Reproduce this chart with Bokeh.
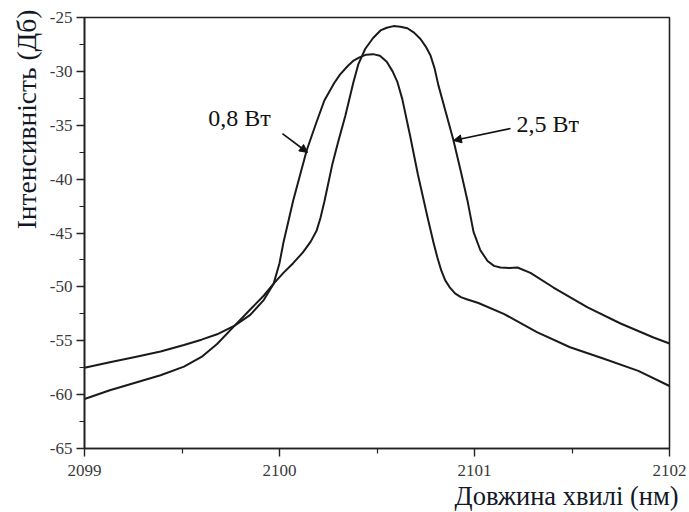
from bokeh.plotting import figure
from bokeh.models import Label, Arrow, NormalHead, Range1d, FixedTicker, Title, PrintfTickFormatter
from bokeh.embed import file_html
from bokeh.resources import INLINE

# Data
wl_08 = [2099.00, 2099.13, 2099.26, 2099.39, 2099.51, 2099.60, 2099.68, 2099.77, 2099.85, 2099.92,
         2099.97, 2100.00, 2100.02, 2100.07, 2100.14, 2100.19, 2100.23, 2100.28, 2100.31, 2100.35,
         2100.38, 2100.41, 2100.445, 2100.48, 2100.515, 2100.55, 2100.58, 2100.605, 2100.63, 2100.67,
         2100.71, 2100.76, 2100.79, 2100.81, 2100.83, 2100.85, 2100.875, 2100.90, 2100.93, 2100.96,
         2101.02, 2101.15, 2101.32, 2101.49, 2101.66, 2101.84, 2102.00]
int_08 = [-57.5, -57.0, -56.5, -56.0, -55.4, -54.9, -54.4, -53.6, -52.6, -51.2,
          -49.7, -47.8, -45.9, -42.0, -37.3, -34.7, -32.7, -31.1, -30.3, -29.5,
          -29.0, -28.7, -28.45, -28.4, -28.55, -29.1, -30.0, -31.0, -32.6, -36.0,
          -39.6, -43.6, -45.9, -47.3, -48.5, -49.4, -50.1, -50.6, -50.95, -51.15,
          -51.5, -52.5, -54.2, -55.6, -56.65, -57.8, -59.2]

wl_25 = [2099.00, 2099.13, 2099.26, 2099.39, 2099.51, 2099.60, 2099.68, 2099.77, 2099.85, 2099.92,
         2099.97, 2100.02, 2100.07, 2100.12, 2100.16, 2100.19, 2100.21, 2100.23, 2100.25, 2100.27,
         2100.30, 2100.338, 2100.379, 2100.405, 2100.44, 2100.48, 2100.518, 2100.55, 2100.585, 2100.62,
         2100.656, 2100.69, 2100.723, 2100.75, 2100.774, 2100.795, 2100.815, 2100.85, 2100.892, 2100.93,
         2100.964, 2100.995, 2101.03, 2101.067, 2101.10, 2101.133, 2101.18, 2101.22, 2101.287, 2101.405,
         2101.58, 2101.749, 2101.918, 2102.00]
int_25 = [-60.4, -59.6, -58.9, -58.2, -57.4, -56.5, -55.3, -53.6, -52.1, -50.8,
          -49.7, -48.7, -47.8, -46.8, -45.8, -44.8, -43.6, -42.1, -40.4, -38.7,
          -36.6, -34.1, -31.0, -29.3, -27.9, -26.9, -26.2, -25.95, -25.8, -25.85,
          -26.0, -26.4, -27.0, -27.7, -28.5, -29.7, -31.3, -33.6, -36.4, -39.3,
          -42.0, -44.9, -46.6, -47.6, -48.05, -48.2, -48.25, -48.2, -48.7, -50.06,
          -51.9, -53.4, -54.7, -55.25]

x_ticks = [2099, 2100, 2101, 2102]
y_ticks = [-65, -60, -55, -50, -45, -40, -35, -30, -25]
x_label = "Довжина хвилі (нм)"
y_label = "Інтенсивність (Дб)"
label_08 = "0,8 Вт"
label_25 = "2,5 Вт"

SERIF = "Liberation Serif"

p = figure(width=689, height=512, output_backend="svg", toolbar_location=None,
           x_range=Range1d(2099, 2102), y_range=Range1d(-65, -25),
           min_border_left=84, min_border_right=20, min_border_top=17, min_border_bottom=64)
p.background_fill_color = "white"
p.border_fill_color = "white"
p.grid.visible = False
p.outline_line_color = "#222222"
p.outline_line_width = 1.6

p.xaxis.ticker = FixedTicker(ticks=x_ticks, minor_ticks=[2099.5, 2100.5, 2101.5])
p.yaxis.ticker = FixedTicker(ticks=y_ticks, minor_ticks=[-62.5, -57.5, -52.5, -47.5, -42.5, -37.5, -32.5, -27.5])
p.xaxis.formatter = PrintfTickFormatter(format="%d")
p.yaxis.formatter = PrintfTickFormatter(format="%d")
for axes in (p.xaxis, p.yaxis):
    axes.axis_line_color = "#222222"
    axes.axis_line_width = 1.6
    axes.major_tick_line_color = "#222222"
    axes.major_tick_line_width = 1.4
    axes.minor_tick_line_color = "#222222"
    axes.minor_tick_line_width = 1.2
    axes.major_tick_in = 0
    axes.major_tick_out = 8
    axes.minor_tick_in = 0
    axes.minor_tick_out = 5
    axes.major_label_text_font = SERIF
    axes.major_label_text_font_size = "17px"
    axes.major_label_text_color = "#3a3a3a"
p.xaxis.major_label_standoff = 8
p.yaxis.major_label_standoff = 4

p.line(wl_08, int_08, line_color="#1a1a1a", line_width=2, line_join="round")
p.line(wl_25, int_25, line_color="#1a1a1a", line_width=2, line_join="round")

p.add_layout(Label(x=2099.635, y=-34.3, text=label_08, text_font=SERIF,
                   text_font_size="24px", text_color="#111111", text_baseline="middle", text_align="left"))
p.add_layout(Label(x=2101.215, y=-34.93, text=label_25, text_font=SERIF,
                   text_font_size="24px", text_color="#111111", text_baseline="middle", text_align="left"))

p.add_layout(Arrow(x_start=2100.015, y_start=-35.77, x_end=2100.144, y_end=-37.53,
                   line_color="#111111", line_width=1.6,
                   end=NormalHead(size=8, fill_color="#111111", line_color="#111111")))
p.add_layout(Arrow(x_start=2101.185, y_start=-35.30, x_end=2100.892, y_end=-36.42,
                   line_color="#111111", line_width=1.6,
                   end=NormalHead(size=8, fill_color="#111111", line_color="#111111")))

p.add_layout(Title(text=y_label, align="right", offset=-8, standoff=10, text_font=SERIF,
                   text_font_size="27.5px", text_font_style="normal", text_color="#111827"), "left")
p.add_layout(Title(text=x_label, align="right", offset=-9, standoff=0, text_font=SERIF,
                   text_font_size="26.5px", text_font_style="normal", text_color="#111827"), "below")

open("out.html", "w").write(file_html(p, INLINE))
